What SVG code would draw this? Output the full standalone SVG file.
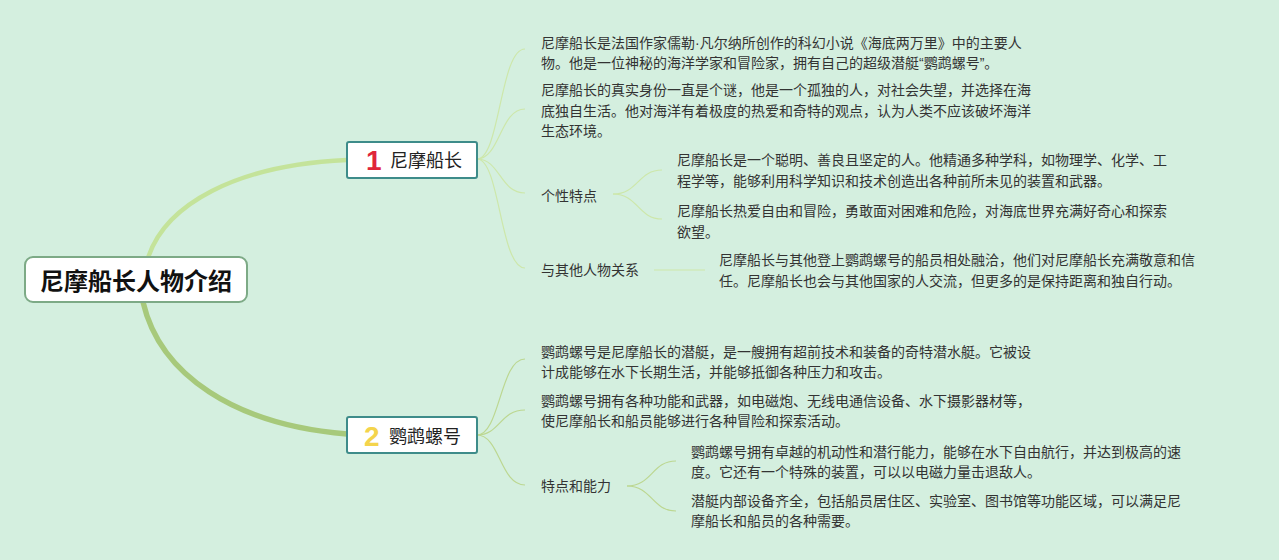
<svg xmlns="http://www.w3.org/2000/svg" width="1279" height="560" viewBox="0 0 1279 560">
<style>
.t{font-family:"Noto Sans CJK SC","Noto Sans",sans-serif;font-size:14px;fill:#333333}
.b{font-family:"Noto Sans CJK SC","Noto Sans",sans-serif;font-size:18px;fill:#222222}
.root{font-family:"Noto Sans CJK SC","Noto Sans",sans-serif;font-size:24px;font-weight:bold;fill:#111111}
.num{font-family:"Liberation Sans",Arial,sans-serif;font-size:28px;font-weight:bold}
.lat{font-family:"Liberation Sans",Arial,sans-serif}
.box{fill:#ffffff;stroke:#3e8c8a;stroke-width:2}
.c1{fill:none;stroke:#cde7aa;stroke-width:1.2}
.c2{fill:none;stroke:#bcd791;stroke-width:1.2}
</style>
<rect width="1279" height="560" fill="#d4efdf"/>
<g id="connectors">
<path d="M148,258 C165,205 235,165 347,160" fill="none" stroke="#c4e39a" stroke-width="4.5" stroke-linecap="round"/>
<path d="M143,302 C160,375 235,425 347,434" fill="none" stroke="#a7c97b" stroke-width="5.5" stroke-linecap="round"/>
<path class="c1" d="M477,159 C500,159 500,49 525,49"/>
<path class="c1" d="M477,159 C500,159 500,109 525,109"/>
<path class="c1" d="M477,159 C500,159 500,193 525,193"/>
<path class="c1" d="M477,159 C500,159 500,268 525,268"/>
<path class="c1" d="M613,194 C638,194 638,170 662,170"/>
<path class="c1" d="M613,194 C638,194 638,219 662,219"/>
<path class="c1" d="M654,270 L705,270"/>
<path class="c2" d="M477,435 C500,435 500,359 525,359"/>
<path class="c2" d="M477,435 C500,435 500,410 525,410"/>
<path class="c2" d="M477,435 C500,435 500,485 525,485"/>
<path class="c2" d="M627,486 C652,486 652,461 676,461"/>
<path class="c2" d="M627,486 C652,486 652,511 676,511"/>
</g>
<g id="root">
<rect x="25" y="257" width="222" height="45" rx="8" fill="#ffffff" stroke="#7daa86" stroke-width="2"/>
<text class="root" x="136" y="290" text-anchor="middle">尼摩船长人物介绍</text>
</g>
<g id="branch1">
<rect class="box" x="347" y="142" width="130" height="36" rx="2"/>
<text class="num" x="366" y="170" fill="#e0263a">1</text>
<text class="b" x="390" y="167">尼摩船长</text>
</g>
<g id="b1c1">
<text class="t" x="541" y="48">尼摩船长是法国作家儒勒<tspan class="lat">·</tspan>凡尔纳所创作的科幻小说《海底两万里》中的主要人</text>
<text class="t" x="541" y="68">物。他是一位神秘的海洋学家和冒险家，拥有自己的超级潜艇<tspan class="lat">“</tspan>鹦鹉螺号<tspan class="lat">”</tspan>。</text>
</g>
<g id="b1c2">
<text class="t" x="541" y="95">尼摩船长的真实身份一直是个谜，他是一个孤独的人，对社会失望，并选择在海</text>
<text class="t" x="541" y="116">底独自生活。他对海洋有着极度的热爱和奇特的观点，认为人类不应该破坏海洋</text>
<text class="t" x="541" y="136">生态环境。</text>
</g>
<g id="b1c3">
<text class="t" x="541" y="201">个性特点</text>
</g>
<g id="b1c3a">
<text class="t" x="677" y="165">尼摩船长是一个聪明、善良且坚定的人。他精通多种学科，如物理学、化学、工</text>
<text class="t" x="677" y="186">程学等，能够利用科学知识和技术创造出各种前所未见的装置和武器。</text>
</g>
<g id="b1c3b">
<text class="t" x="677" y="216">尼摩船长热爱自由和冒险，勇敢面对困难和危险，对海底世界充满好奇心和探索</text>
<text class="t" x="677" y="237">欲望。</text>
</g>
<g id="b1c4">
<text class="t" x="541" y="275">与其他人物关系</text>
</g>
<g id="b1c4a">
<text class="t" x="719" y="265">尼摩船长与其他登上鹦鹉螺号的船员相处融洽，他们对尼摩船长充满敬意和信</text>
<text class="t" x="719" y="286">任。尼摩船长也会与其他国家的人交流，但更多的是保持距离和独自行动。</text>
</g>
<g id="branch2">
<rect class="box" x="347" y="417" width="130" height="36" rx="2"/>
<text class="num" x="364" y="446" fill="#f4d44c">2</text>
<text class="b" x="389" y="443">鹦鹉螺号</text>
</g>
<g id="b2c1">
<text class="t" x="541" y="357">鹦鹉螺号是尼摩船长的潜艇，是一艘拥有超前技术和装备的奇特潜水艇。它被设</text>
<text class="t" x="541" y="377">计成能够在水下长期生活，并能够抵御各种压力和攻击。</text>
</g>
<g id="b2c2">
<text class="t" x="541" y="406">鹦鹉螺号拥有各种功能和武器，如电磁炮、无线电通信设备、水下摄影器材等，</text>
<text class="t" x="541" y="426">使尼摩船长和船员能够进行各种冒险和探索活动。</text>
</g>
<g id="b2c3">
<text class="t" x="541" y="491">特点和能力</text>
</g>
<g id="b2c3a">
<text class="t" x="691" y="457">鹦鹉螺号拥有卓越的机动性和潜行能力，能够在水下自由航行，并达到极高的速</text>
<text class="t" x="691" y="477">度。它还有一个特殊的装置，可以以电磁力量击退敌人。</text>
</g>
<g id="b2c3b">
<text class="t" x="691" y="506">潜艇内部设备齐全，包括船员居住区、实验室、图书馆等功能区域，可以满足尼</text>
<text class="t" x="691" y="526">摩船长和船员的各种需要。</text>
</g>
</svg>
